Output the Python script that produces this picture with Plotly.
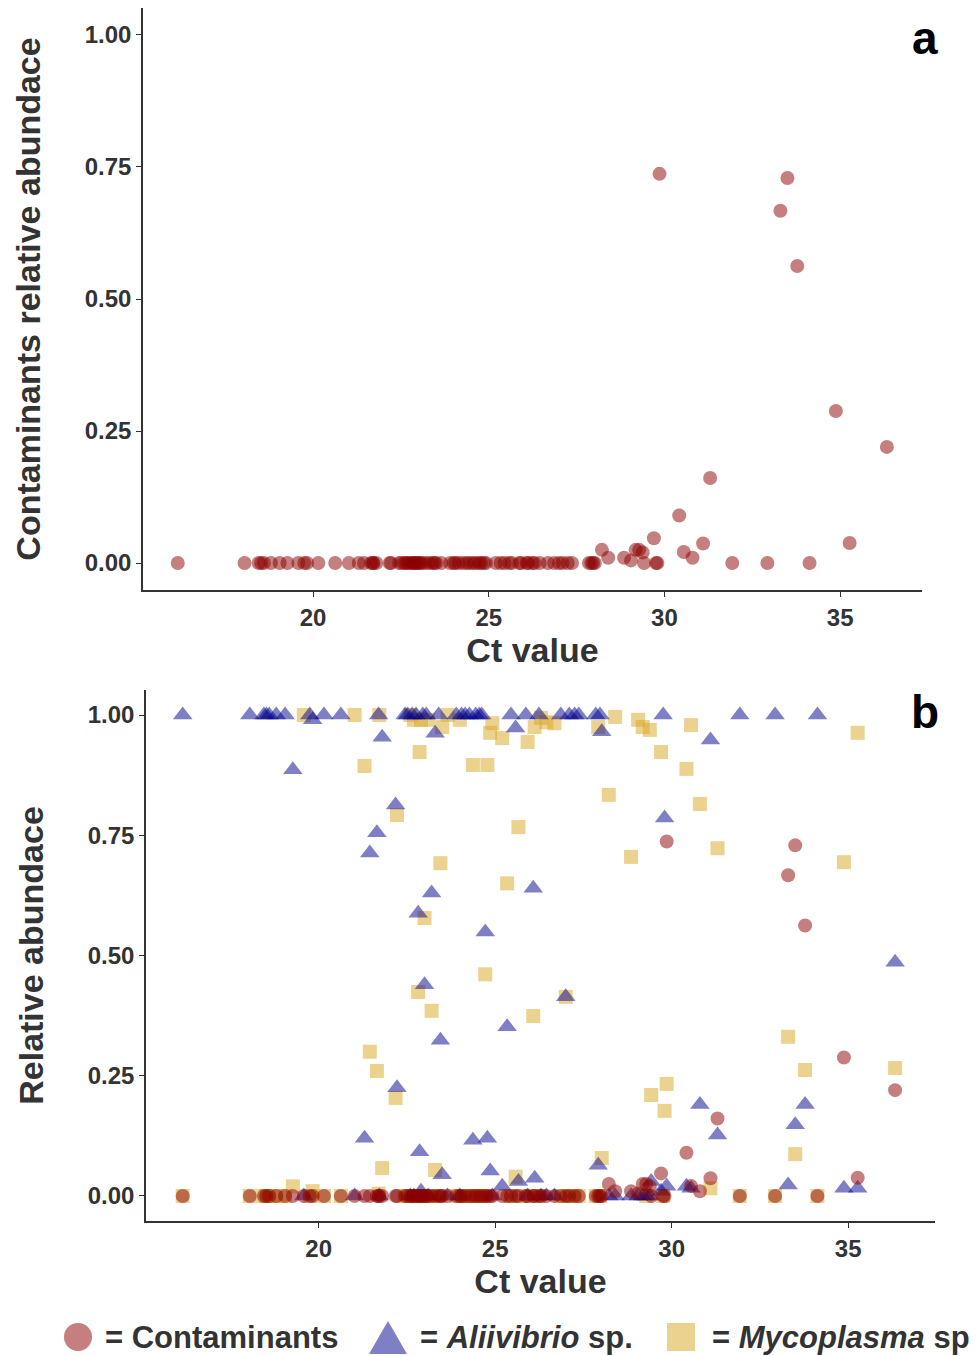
import plotly.graph_objects as go

# ---- data ----
ct = [16.15, 18.05, 18.45, 18.52, 18.6, 18.8, 19.05, 19.27, 19.58, 19.75,
      19.83, 20.15, 20.63, 21.02, 21.3, 21.45, 21.65, 21.7, 21.72, 21.8,
      22.18, 22.22, 22.45, 22.52, 22.6, 22.65, 22.7, 22.76, 22.82, 22.86,
      22.9, 22.95, 23.0, 23.05, 23.1, 23.2, 23.3, 23.4, 23.45, 23.5,
      23.65, 23.9, 24.0, 24.05, 24.15, 24.27, 24.37, 24.45, 24.55, 24.62,
      24.72, 24.78, 24.86, 24.92, 25.2, 25.34, 25.45, 25.58, 25.66, 25.87,
      25.92, 26.08, 26.12, 26.24, 26.3, 26.45, 26.68, 26.86, 27.0, 27.1,
      27.25, 27.37, 27.85, 27.92, 27.97, 28.02, 28.22, 28.4, 28.85, 29.05,
      29.18, 29.28, 29.38, 29.42, 29.7, 29.76, 29.8, 29.86, 30.42, 30.55,
      30.8, 31.1, 31.3, 31.93, 32.93, 33.3, 33.5, 33.78, 34.13, 34.88,
      35.27, 36.33]

contaminants = [0, 0, 0, 0, 0, 0, 0, 0, 0, 0,
                0, 0, 0, 0, 0, 0, 0, 0, 0, 0,
                0, 0, 0, 0, 0, 0, 0, 0, 0, 0,
                0, 0, 0, 0, 0, 0, 0, 0, 0, 0,
                0, 0, 0, 0, 0, 0, 0, 0, 0, 0,
                0, 0, 0, 0, 0, 0, 0, 0, 0, 0,
                0, 0, 0, 0, 0, 0, 0, 0, 0, 0,
                0, 0, 0, 0, 0, 0, 0.025, 0.01, 0.01, 0.005,
                0.025, 0.025, 0.02, 0.0, 0.047, 0.0, 0.0, 0.737, 0.09, 0.021,
                0.01, 0.037, 0.161, 0, 0, 0.667, 0.729, 0.5625, 0, 0.288,
                0.038, 0.22]

aliivibrio = [1.0, 1.0, 1.0, 1.0, 1.0, 1.0, 1.0, 0.886, 0.0, 1.0,
              0.99, 1.0, 1.0, 0.0, 0.12, 0.713, 0.755, 1.0, 0.0, 0.954,
              0.813, 0.225, 1.0, 1.0, 0.0, 1.0, 0.0, 1.0, 0.588, 0.092,
              0.01, 1.0, 0.439, 1.0, 0.0, 0.63, 0.962, 1.0, 0.324, 0.044,
              0.0, 1.0, 0.0, 1.0, 1.0, 1.0, 0.116, 1.0, 1.0, 1.0,
              0.549, 0.12, 0.052, 0.0, 0.02, 0.352, 1.0, 0.973, 0.03, 1.0,
              0.0, 0.64, 0.037, 1.0, 0.0, 0.0, 0.0, 1.0, 0.414, 1.0,
              1.0, 1.0, 1.0, 0.064, 1.0, 0.965, 0.0, 0.0, 0.0, 0.0,
              0.0, 0.0, 0.0, 0.03, 0.01, 1.0, 0.786, 0.02, 0.02, 0.016,
              0.19, 0.948, 0.127, 1.0, 1.0, 0.023, 0.148, 0.19, 1.0, 0.016,
              0.016, 0.486]

mycoplasma = [0, 0, 0, 0, 0, 0, 0, 0.02, 1.0, 0,
              0.01, 0, 0, 1.0, 0.894, 0.30, 0.26, 0.005, 1.0, 0.058,
              0.204, 0.792, 0, 0, 1.0, 0, 0.99, 0, 0.424, 0.923,
              0.99, 0, 0.578, 0, 0.99, 0.385, 0.054, 0, 0.692, 0.975,
              1.0, 0, 0.99, 0, 0, 0, 0.896, 0, 0, 0,
              0.461, 0.896, 0.963, 0.983, 0.952, 0.65, 0, 0.04, 0.767, 0,
              0.944, 0.374, 0.975, 0, 0.994, 0.985, 0.983, 0, 0.414, 0,
              0, 0, 0, 0.975, 0, 0.079, 0.834, 0.996, 0.705, 0.99,
              0.975, 0.0, 0.969, 0.21, 0.923, 0.0, 0.177, 0.233, 0.888, 0.979,
              0.815, 0.016, 0.723, 0, 0, 0.331, 0.087, 0.262, 0, 0.694,
              0.963, 0.266]

y_ticks = [0, 0.25, 0.5, 0.75, 1.0]
x_ticks = [20, 25, 30, 35]

# ---- styling ----
# the page body has an 8px margin, so the figure is drawn 8px smaller and
# all reference pixel positions are shifted by that offset
OFF = 8
W, H = 979 - OFF, 1356 - OFF
FONT = "Liberation Sans, Arial, sans-serif"
C_RED = "rgba(139,0,0,0.5)"
C_BLUE = "rgba(0,0,139,0.5)"
C_GOLD = "rgba(218,165,32,0.5)"
AX = "#333333"
TXT = "#333333"

fig = go.Figure()

# Panel a
fig.add_trace(go.Scatter(x=ct, y=contaminants, mode="markers",
                         marker=dict(symbol="circle", size=14, color=C_RED, line=dict(width=0)),
                         xaxis="x", yaxis="y", showlegend=False, name="Contaminants"))
# Panel b
fig.add_trace(go.Scatter(x=ct, y=mycoplasma, mode="markers",
                         marker=dict(symbol="square", size=14, color=C_GOLD, line=dict(width=0)),
                         xaxis="x2", yaxis="y2", showlegend=False, name="Mycoplasma sp."))
fig.add_trace(go.Scatter(x=ct, y=aliivibrio, mode="markers",
                         marker=dict(symbol="triangle-up", size=17, color=C_BLUE, line=dict(width=0)),
                         xaxis="x2", yaxis="y2", showlegend=False, name="Aliivibrio sp."))
fig.add_trace(go.Scatter(x=ct, y=contaminants, mode="markers",
                         marker=dict(symbol="circle", size=14, color=C_RED, line=dict(width=0)),
                         xaxis="x2", yaxis="y2", showlegend=False, name="Contaminants"))


def px(x):
    return (x - OFF) / W


def py(y):
    return 1 - (y - OFF) / H


axis_common = dict(showline=True, linecolor=AX, linewidth=1.5, ticks="outside",
                   ticklen=5, tickwidth=1.3, tickcolor=AX, showgrid=False, zeroline=False,
                   tickfont=dict(family=FONT, size=24, color=TXT), mirror=False)

title_font = dict(family=FONT, size=34, color=TXT)

fig.update_layout(
    width=W, height=H, autosize=False,
    margin=dict(l=0, r=0, t=0, b=0),
    paper_bgcolor="white", plot_bgcolor="white",
    xaxis=dict(domain=[px(143), px(922)], range=[15.16, 37.33], anchor="y",
               tickvals=x_ticks, ticktext=[f"<b>{v}</b>" for v in x_ticks],
               title=dict(text="<b>Ct value</b>", font=title_font, standoff=8),
               **axis_common),
    yaxis=dict(domain=[py(590), py(8)], range=[-0.051, 1.051], anchor="x",
               tickvals=y_ticks, ticktext=[f"<b>{v:.2f}</b>" for v in y_ticks],
               title=dict(text="<b>Contaminants relative abundace</b>", font=title_font, standoff=34),
               **axis_common),
    xaxis2=dict(domain=[px(146), px(935)], range=[15.11, 37.46], anchor="y2",
                tickvals=x_ticks, ticktext=[f"<b>{v}</b>" for v in x_ticks],
                title=dict(text="<b>Ct value</b>", font=title_font, standoff=8),
                **axis_common),
    yaxis2=dict(domain=[py(1221), py(690)], range=[-0.052, 1.052], anchor="x2",
                tickvals=y_ticks, ticktext=[f"<b>{v:.2f}</b>" for v in y_ticks],
                title=dict(text="<b>Relative abundace</b>", font=title_font, standoff=34),
                **axis_common),
)

# panel labels
for lab, yy in (("a", 38), ("b", 712)):
    fig.add_annotation(text=f"<b>{lab}</b>", xref="paper", yref="paper",
                       x=px(925), y=py(yy), xanchor="center", yanchor="middle",
                       showarrow=False, font=dict(family=FONT, size=46, color="black"))

# custom legend at the bottom
LY = 1337
fig.add_shape(type="circle", xref="paper", yref="paper",
              x0=px(64), x1=px(92), y0=py(LY + 14), y1=py(LY - 14),
              fillcolor=C_RED, line=dict(width=0))
tri = f"M {px(369)} {py(1354)} L {px(407)} {py(1354)} L {px(388)} {py(1321)} Z"
fig.add_shape(type="path", xref="paper", yref="paper", path=tri,
              fillcolor=C_BLUE, line=dict(width=0))
fig.add_shape(type="rect", xref="paper", yref="paper",
              x0=px(667), x1=px(695), y0=py(1351), y1=py(1323),
              fillcolor=C_GOLD, line=dict(width=0))

leg_font = dict(family=FONT, size=31, color=TXT)
for txt, xx in (("<b>= Contaminants</b>", 103),
                ("<b>= <i>Aliivibrio</i> sp.</b>", 418),
                ("<b>= <i>Mycoplasma</i> sp.</b>", 710)):
    fig.add_annotation(text=txt, xref="paper", yref="paper", x=px(xx), y=py(LY),
                       xanchor="left", yanchor="middle", showarrow=False, font=leg_font)

fig.write_html("out.html")
